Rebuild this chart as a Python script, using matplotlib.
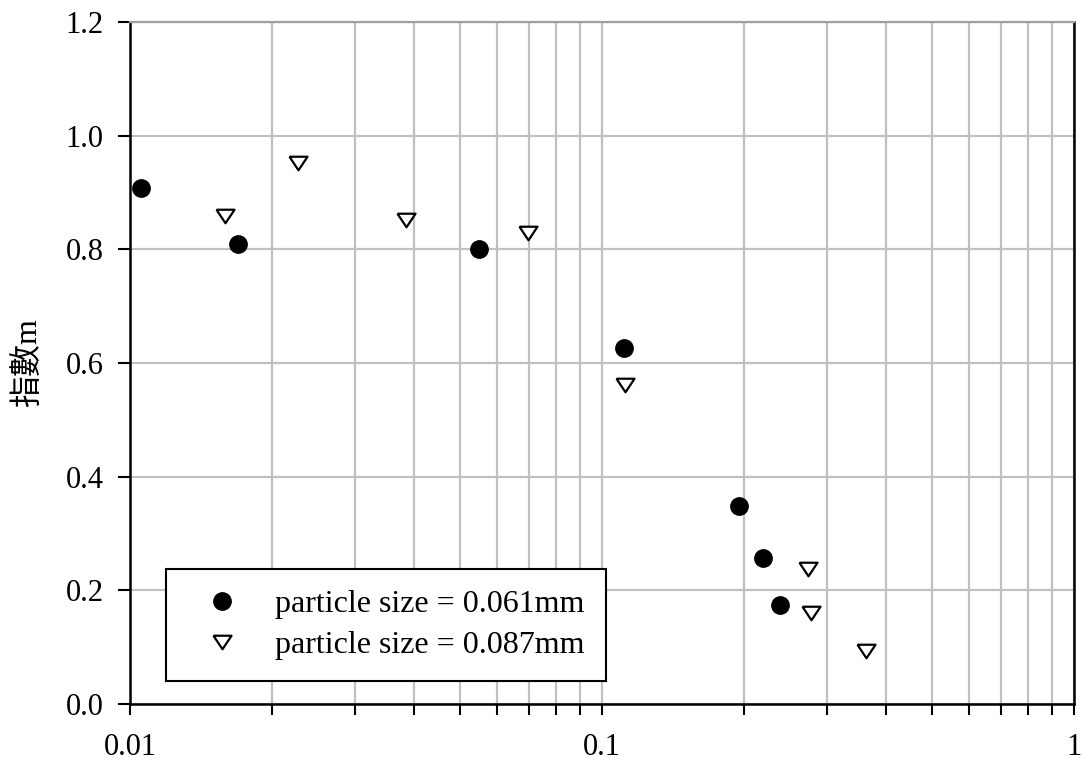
import matplotlib
matplotlib.use("Agg")
import matplotlib.pyplot as plt
from matplotlib.ticker import LogLocator, NullFormatter

# Data
x_061 = [0.01055, 0.01694, 0.0549, 0.1113, 0.195, 0.2193, 0.2384]
m_061 = [0.908, 0.809, 0.801, 0.626, 0.348, 0.257, 0.174]

x_087 = [0.0159, 0.0227, 0.0384, 0.0697, 0.1119, 0.2731, 0.2773, 0.3625]
m_087 = [0.859, 0.952, 0.852, 0.829, 0.561, 0.2376, 0.160, 0.093]

label_061 = "particle size = 0.061mm"
label_087 = "particle size = 0.087mm"
ylabel = "指數m"
xticks = [0.01, 0.1, 1]
xticklabels = ["0.01", "0.1", "1"]
yticks = [0.0, 0.2, 0.4, 0.6, 0.8, 1.0, 1.2]
yticklabels = ["0.0", "0.2", "0.4", "0.6", "0.8", "1.0", "1.2"]

serif = ["Liberation Serif", "Noto Sans CJK TC", "DejaVu Sans"]
plt.rcParams["font.family"] = serif

fig = plt.figure(figsize=(10.85, 7.64), dpi=100)
ax = fig.add_axes([130 / 1085, 1 - 704 / 764, (1074 - 130) / 1085, (704 - 22) / 764])

ax.set_xscale("log")
ax.set_xlim(0.01, 1)
ax.set_ylim(0, 1.2)

grid_c = "#c0c0c0"
ax.xaxis.set_minor_locator(LogLocator(base=10, subs=range(2, 10)))
ax.xaxis.set_minor_formatter(NullFormatter())
ax.set_xticks(xticks)
ax.set_xticklabels(xticklabels)
ax.set_yticks(yticks)
ax.set_yticklabels(yticklabels)
ax.grid(True, which="major", color=grid_c, lw=1.6)
ax.grid(True, which="minor", axis="x", color=grid_c, lw=1.6)
ax.set_axisbelow(True)

ax.tick_params(which="both", direction="out", length=8, width=1.5, color="black",
               labelsize=22)
ax.tick_params(axis="x", which="both", pad=13)
ax.tick_params(axis="y", length=9, pad=10)

for s in ["left", "bottom", "right"]:
    ax.spines[s].set_color("black")
    ax.spines[s].set_linewidth(1.8)
ax.spines["top"].set_color("#a0a0a0")
ax.spines["top"].set_linewidth(1.6)

tri = [(-1, 0.75), (1, 0.75), (0, -0.75), (-1, 0.75)]
ax.plot(x_061, m_061, linestyle="none", marker="o", ms=12.5, mfc="black",
        mec="black", label=label_061, zorder=3, clip_on=False)
ax.plot(x_087, m_087, linestyle="none", marker=tri, ms=13, mfc="white",
        mec="black", mew=1.6, label=label_087, zorder=3, clip_on=False)

ax.set_ylabel(ylabel, fontsize=23, labelpad=16)

leg = ax.legend(loc="lower left", bbox_to_anchor=((166 - 130) / 944, (704 - 681) / 682),
                fontsize=23, frameon=True, fancybox=False, edgecolor="black",
                framealpha=1, borderpad=0.65, handletextpad=0.56, labelspacing=0.37,
                handlelength=2.21, borderaxespad=0)
leg.get_frame().set_linewidth(1.5)

fig.savefig("out.png", dpi=100)
